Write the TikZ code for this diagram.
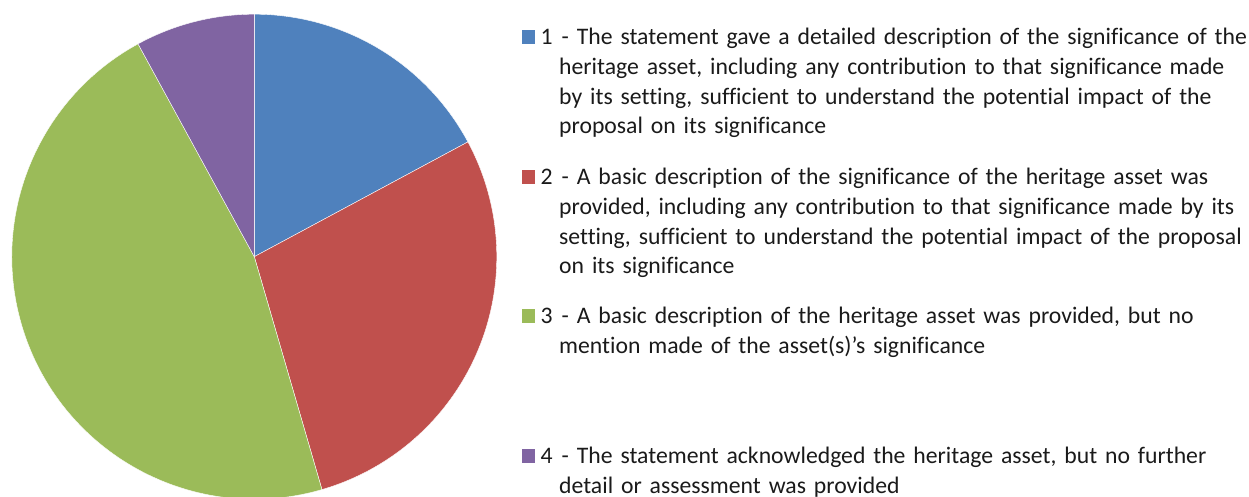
\documentclass[tikz,border=0pt]{standalone}
\usepackage{fontspec}
\setmainfont{Carlito}[Ligatures=NoCommon]
\usetikzlibrary{positioning}
\definecolor{slcblue}{RGB}{79,129,189}
\definecolor{slcred}{RGB}{192,80,77}
\definecolor{slcgreen}{RGB}{155,187,89}
\definecolor{slcpurple}{RGB}{128,100,162}
\definecolor{slctext}{RGB}{26,26,26}

\begin{document}
\begin{tikzpicture}[x=1pt, y=1pt,
  keybox/.style={minimum width=13.4pt, minimum height=14pt, inner sep=0pt,
    anchor=south west},
  keynum/.style={inner sep=0pt, anchor=base west, text=slctext},
  keytext/.style={inner sep=0pt, anchor=base west, text=slctext, align=left,
    text width=700pt, font=\fontsize{23.7}{29.6}\selectfont}]
\useasboundingbox (0,0) rectangle (1249,497);
\clip (0,0) rectangle (1249,497);
% pie
\coordinate (ctr) at (254.3,240.3);
\def\rad{242.5}
\foreach \from/\to/\col in {90/28.25/slcblue, 28.25/-73.8/slcred,
  -73.8/-241.35/slcgreen, 118.65/90/slcpurple}
  \filldraw[fill=\col, draw=white, line width=0.4pt] (ctr) -- ++(\from:\rad)
    arc[start angle=\from, end angle=\to, radius=\rad] -- cycle;
% legend keys
\foreach \i/\col/\yb in {1/slcblue/452, 2/slcred/312, 3/slcgreen/173,
  4/slcpurple/33} {
  \node[keybox, fill=\col] (key\i) at (521.7,\yb+1) {};
  \node[keynum, font=\fontsize{23.7}{29.6}\selectfont] (num\i) at (540.3,\yb) {\i};
}
\node[keytext] (txt1) at (559,452) {\hspace*{2.5pt}- The statement gave a detailed
  description of the significance of the\\
  heritage asset, including any contribution to that significance made\\
  by its setting, sufficient to understand the potential impact of the\\
  proposal on its significance};
\node[keytext] (txt2) at (559,312) {\hspace*{2.5pt}- A basic description of the
  significance of the heritage asset was\\
  provided, including any contribution to that significance made by its\\
  setting, sufficient to understand the potential impact of the proposal\\
  on its significance};
\node[keytext] (txt3) at (559,173) {\hspace*{2.5pt}- A basic description of the
  heritage asset was provided, but no\\
  mention made of the asset(s)'s significance};
\node[keytext] (txt4) at (559,33) {\hspace*{2.5pt}- The statement acknowledged the
  heritage asset, but no further\\
  detail or assessment was provided};
\end{tikzpicture}
\end{document}
